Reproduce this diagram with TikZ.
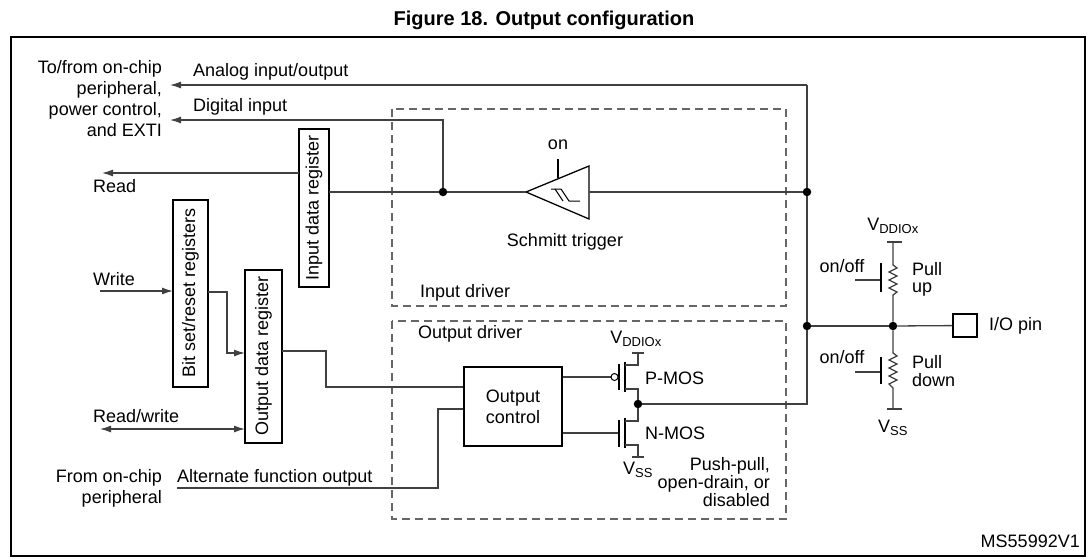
\documentclass[tikz,border=0pt]{standalone}
\usepackage{fontspec}
\setmainfont{Liberation Sans}
\usetikzlibrary{arrows.meta}
\newcommand{\vsub}[1]{V\textsubscript{\fontsize{13}{13}\selectfont #1}}
\begin{document}
\begin{tikzpicture}[x=1pt,y=-1pt,
  every node/.style={font=\fontsize{18}{21}\selectfont, inner sep=0pt},
  ln/.style={line width=1.3pt, draw=black!75},
  ar/.style={ln, -{Latex[length=11pt,width=7pt]}},
  dashbox/.style={draw=black!60, line width=1.3pt, dash pattern=on 8pt off 5pt},
  dot/.style={circle, fill, minimum size=8.5pt, inner sep=0pt},
  plate/.style={line width=2.2pt}]
\useasboundingbox (0,0) rectangle (1088,560);
\node[font=\fontsize{20}{22}\selectfont\bfseries] (title) at (544,20) {Figure 18. Output configuration};
\draw[line width=1.5pt] (11,37) rectangle (1085,556);
\node[anchor=east] (ms) at (1080,541) {MS55992V1};
% left texts
\node[anchor=north east, align=right] (tofrom) at (162,60) {To/from on-chip\\peripheral,\\power control,\\and EXTI};
\node[anchor=north east, align=right] (fromchip) at (162,469) {From on-chip\\peripheral};
% dashed boxes
\draw[dashbox] (392,109) rectangle (786,306);
\draw[dashbox] (392,321) rectangle (786,519);
\node[anchor=west] (indrv) at (420,293) {Input driver};
\node[anchor=west] (outdrv) at (418,334) {Output driver};
% registers
\draw[line width=1.5pt] (299,129) rectangle (329,287);
\node[rotate=90] (idr) at (314,208) {Input data register};
\draw[line width=1.5pt] (173,200) rectangle (208,387);
\node[rotate=90] (bsr) at (190.5,293) {Bit set/reset registers};
\draw[line width=1.5pt] (245,270) rectangle (282,443);
\node[rotate=90] (odr) at (263.5,356) {Output data register};
\coordinate (idrL) at (299,173); \coordinate (idrR) at (329,192);
% analog
\coordinate (vtop) at (807,85);
\draw[ar] (vtop) -- (170,85);
\node[anchor=west] (analog) at (193,72) {Analog input/output};
% digital
\node[dot] (d1) at (443,192) {};
\coordinate (dtop) at (443,120);
\draw[ar] (d1) -- (dtop) -- (170,120);
\node[anchor=west] (digital) at (193,107) {Digital input};
% read
\draw[ar] (idrL) -- (102,173);
\node[anchor=west] (read) at (93,186) {Read};
% schmitt
\coordinate (stip) at (526,192);
\draw[line width=1.3pt] (526,192) -- (589,166) -- (589,219) -- cycle;
\draw[line width=1pt] (551,189) -- (561,189) -- (569,201) -- (580,201);
\draw[line width=1pt] (555,189) -- (563,201);
\draw[line width=1.8pt] (558,159) -- (558,178);
\node (on) at (558,145) {on};
\node (st) at (565,242) {Schmitt trigger};
\node[dot] (d2) at (807,192) {};
\node[dot] (d3) at (807,326) {};
\draw[ln] (idrR) -- (d1) -- (stip);
\draw[ln] (589,192) -- (d2);
% write
\draw[ar] (100,291) -- (173,291);
\node[anchor=west] (write) at (93,279) {Write};
\draw[ar] (208,292) -- (227,292) -- (227,353) -- (245,353);
\draw[ln, {Latex[length=11pt,width=7pt]}-{Latex[length=11pt,width=7pt]}] (100,429) -- (245,429);
\node[anchor=west] (rw) at (93,416) {Read/write};
% output control
\node[draw, line width=1.5pt, minimum width=98pt, minimum height=79pt, align=center] (oc) at (513,406.5) {Output\\control};
\draw[ln] (282,351) -- (326,351) -- (326,387) -- (oc.west |- 0,387);
\draw[ln] (177,488) -- (438,488) -- (438,409) -- (oc.west |- 0,409);
\node[anchor=west] (alt) at (177,478) {Alternate function output};
% PMOS
\draw[ln] (oc.east |- 0,377) -- (611,377);
\draw[line width=1pt] (614.5,377) circle (3.5pt);
\draw[plate] (619,364) -- (619,390);
\draw[plate] (625,362) -- (625,392);
\draw[ln] (625,365) -- (638,365) -- (638,353);
\draw[ln] (632,353) -- (644,353);
\node (vdd1) at (636,339) {\vsub{DDIOx}};
\node[anchor=west] (pmos) at (645,378) {P-MOS};
\node[dot] (d4) at (638,404) {};
\draw[ln] (625,389) -- (638,389) -- (d4);
% NMOS
\draw[ln] (oc.east |- 0,433) -- (619,433);
\draw[plate] (619,420) -- (619,447);
\draw[plate] (625,418) -- (625,448);
\draw[ln] (625,421) -- (638,421) -- (d4);
\draw[ln] (625,445) -- (638,445) -- (638,457);
\draw[ln] (632,457) -- (644,457);
\node (vss1) at (638,470) {\vsub{SS}};
\node[anchor=west] (nmos) at (645,433) {N-MOS};
\node[anchor=north east, align=right, font=\fontsize{18}{18}\selectfont] (pp) at (770,457) {Push-pull,\\open-drain, or\\disabled};
% output line
\draw[ln] (d4) -- (807,404) -- (d3) -- (d2) -- (vtop);
% pull-up/down
\node[dot] (d5) at (893,326) {};
\draw[ln] (d3) -- (d5);
\node[draw, line width=1.5pt, minimum width=24pt, minimum height=23pt] (pin) at (965,325.5) {};
\draw[ln] (d5) -- (pin);
\node[anchor=west] (io) at (989,326) {I/O pin};
\draw[ln] (887,242) -- (902,242);
\draw[ln] (893,242) -- (893,265) -- (897,268) -- (889,272) -- (897,276) -- (889,280) -- (897,284) -- (889,288) -- (897,292) -- (893,295) -- (d5);
\draw[plate] (881,263) -- (881,292);
\draw[ln] (855,280) -- (880,280);
\node (vdd2) at (893,226) {\vsub{DDIOx}};
\node (onoff1) at (842,266) {on/off};
\node[anchor=north west, align=left, font=\fontsize{18}{17}\selectfont] (pu) at (912,262) {Pull\\up};
\draw[ln] (d5) -- (893,353) -- (897,356) -- (889,360) -- (897,364) -- (889,368) -- (897,372) -- (889,376) -- (897,380) -- (889,384) -- (893,388) -- (893,409);
\draw[ln] (887,409) -- (902,409);
\draw[plate] (881,357) -- (881,384);
\draw[ln] (855,372) -- (880,372);
\node (onoff2) at (842,357) {on/off};
\node[anchor=north west, align=left, font=\fontsize{18}{18}\selectfont] (pd) at (912,355) {Pull\\down};
\node (vss2) at (893,428) {\vsub{SS}};
\end{tikzpicture}
\end{document}
